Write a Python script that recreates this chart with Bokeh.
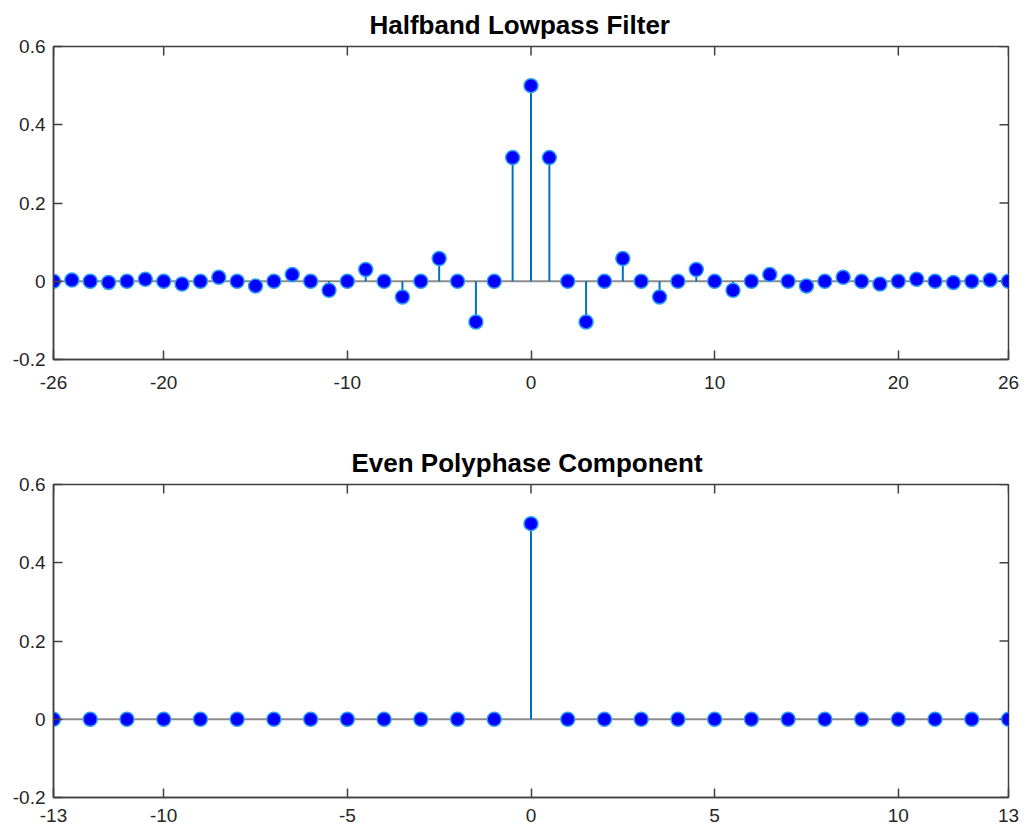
from bokeh.plotting import figure
from bokeh.layouts import column
from bokeh.models import FixedTicker, Span, Range1d
from bokeh.embed import file_html
from bokeh.resources import INLINE

# ---- data ----
n_full = list(range(-26, 27))
h_full = [0, 0.003, 0, -0.003, 0, 0.005, 0, -0.007, 0, 0.010, 0, -0.012, 0,
          0.017, 0, -0.023, 0, 0.030, 0, -0.040, 0, 0.058, 0, -0.104, 0, 0.316,
          0.5,
          0.316, 0, -0.104, 0, 0.058, 0, -0.040, 0, 0.030, 0, -0.023, 0, 0.017,
          0, -0.012, 0, 0.010, 0, -0.007, 0, 0.005, 0, -0.003, 0, 0.003, 0]

n_even = list(range(-13, 14))
h_even = [0, 0, 0, 0, 0, 0, 0, 0, 0, 0, 0, 0, 0, 0.5,
          0, 0, 0, 0, 0, 0, 0, 0, 0, 0, 0, 0, 0]

top_xticks = [-26, -20, -10, 0, 10, 20, 26]
bot_xticks = [-13, -10, -5, 0, 5, 10, 13]
yticks = [-0.2, 0, 0.2, 0.4, 0.6]
ytick_labels = ["-0.2", "0", "0.2", "0.4", "0.6"]

FONT = "Liberation Sans"
AXC = "#404040"
TXT = "#262626"


def style_axis(ax, ticks, standoff):
    ax.ticker = FixedTicker(ticks=ticks)
    ax.axis_line_color = AXC
    ax.axis_line_width = 1.5
    ax.major_tick_line_color = AXC
    ax.major_tick_line_width = 1.5
    ax.major_tick_in = 9
    ax.major_tick_out = 0
    ax.minor_tick_line_color = None
    ax.major_label_text_font = FONT
    ax.major_label_text_font_size = "19px"
    ax.major_label_text_color = TXT
    ax.major_label_standoff = standoff
    ax.major_label_overrides = {t: ("%g" % t) for t in ticks}


def make(title, n, h, xr, xticks, height, btop, bbot, xstand, toff):
    p = figure(width=1026, height=height,
               x_range=Range1d(-xr, xr), y_range=Range1d(-0.2, 0.6),
               output_backend="svg", toolbar_location=None)
    p.min_border_left = 53
    p.min_border_right = 18
    p.min_border_top = btop
    p.min_border_bottom = bbot
    p.xgrid.visible = False
    p.ygrid.visible = False
    p.outline_line_color = AXC
    p.outline_line_width = 1.5
    p.background_fill_color = "white"
    p.border_fill_color = "white"

    style_axis(p.xaxis[0], xticks, xstand)
    style_axis(p.yaxis[0], yticks, 8)
    p.yaxis[0].major_label_overrides = dict(zip(yticks, ytick_labels))

    # inward ticks on the top and right edges of the box
    p.ray(x=xticks, y=[yticks[-1]] * len(xticks), length=9,
          length_units="screen", angle=-90, angle_units="deg",
          line_color=AXC, line_width=1.5)
    p.ray(x=[xr] * len(yticks), y=yticks, length=9,
          length_units="screen", angle=180, angle_units="deg",
          line_color=AXC, line_width=1.5)

    p.title.text = title
    p.title.align = "left"
    p.title.offset = toff
    p.title.text_font = FONT
    p.title.text_font_size = "26px"
    p.title.text_font_style = "bold"
    p.title.text_color = "black"
    p.title.standoff = 14

    base = Span(location=0, dimension="width", line_color="#8c8c8c",
                line_width=2, level="underlay")
    p.add_layout(base)

    p.segment(x0=n, y0=[0] * len(n), x1=n, y1=h,
              line_color="#0072BD", line_width=2)
    p.scatter(x=n, y=h, size=14, marker="circle",
              fill_color="#0000FF", line_color="#2a9df4", line_width=1.5)
    return p


p1 = make("Halfband Lowpass Filter", n_full, h_full, 26, top_xticks,
          420, 46, 61, 16, 316)
p2 = make("Even Polyphase Component", n_even, h_even, 13, bot_xticks,
          410, 64, 33, 11, 298)

layout = column(p1, p2, spacing=0)
open("out.html", "w").write(file_html(layout, INLINE))
